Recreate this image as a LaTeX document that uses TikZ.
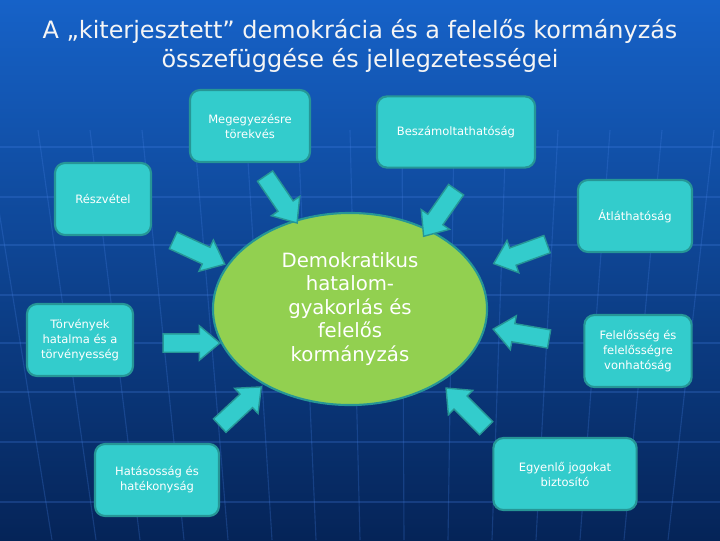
\documentclass[tikz,border=0pt]{standalone}
\usepackage{fontspec}
\setmainfont{DejaVu Sans}
\usetikzlibrary{shapes}

\definecolor{bgtop}{RGB}{22,98,200}
\definecolor{bgmid}{RGB}{12,64,148}
\definecolor{bgbot}{RGB}{5,36,88}
\definecolor{tuerkis}{RGB}{51,204,204}
\definecolor{rand}{RGB}{38,150,150}
\definecolor{gruen}{RGB}{146,208,80}
\definecolor{gitter}{RGB}{70,130,230}

\begin{document}
\begin{tikzpicture}[x=0.025cm, y=-0.025cm,
  box/.style={draw=rand, line width=1.5pt, fill=tuerkis, rounded corners=0.25cm, text=white, align=center, font=\fontsize{8.2}{10.7}\selectfont, inner sep=2pt, minimum height=1.8cm},
  arr/.style={single arrow, draw=rand, line width=1pt, fill=tuerkis, sloped, allow upside down, inner xsep=0pt, inner ysep=0.2125cm, minimum height=1.42cm, single arrow head extend=0.2cm, single arrow tip angle=80}]

\useasboundingbox (0,0) rectangle (720,540);
\fill[top color=bgtop, middle color=bgmid, bottom color=bgbot] (0,0) rectangle (720,540);
\begin{scope}
\clip (0,0) rectangle (720,540);
\foreach \y in {147,197,245,295,343,392,442,502}
  \draw[gitter, opacity=0.25, line width=0.8pt] (0,\y) -- (720,\y);
\foreach \k in {-7,...,7}
  \draw[gitter, opacity=0.25, line width=0.8pt] (350+52*\k,130) -- (360+44*\k,540);
\end{scope}

\node[text=white!92!gray, align=center, font=\fontsize{17}{20.6}\selectfont] at (360,46) (titel) {A „kiterjesztett” demokrácia és a felelős kormányzás\\összefüggése és jellegzetességei};

\node[ellipse, draw=rand, line width=1.5pt, fill=gruen, text=white, align=center, minimum width=6.85cm, minimum height=4.8cm, font=\fontsize{14}{16.7}\selectfont] at (350,309) (dem) {Demokratikus\\hatalom-\\gyakorlás és\\felelős\\kormányzás};

\node[box, minimum width=3.0cm] at (250,126) (meg) {Megegyezésre\\törekvés};
\node[box, minimum width=3.95cm, minimum height=1.78cm] at (456,132) (besz) {Beszámoltathatóság};
\node[box, minimum width=2.4cm] at (103,199) (resz) {Részvétel};
\node[box, minimum width=2.85cm] at (635,216) (atl) {Átláthatóság};
\node[box, minimum width=2.65cm] at (80,340) (torv) {Törvények\\hatalma és a\\törvényesség};
\node[box, minimum width=2.68cm] at (638,351) (fel) {Felelősség és\\felelősségre\\vonhatóság};
\node[box, minimum width=3.1cm] at (157,480) (hat) {Hatásosság és\\hatékonyság};
\node[box, minimum width=3.58cm] at (565,474) (egy) {Egyenlő jogokat\\biztosító};

\coordinate (t1) at (263,173); \coordinate (h1) at (293,217);
\coordinate (t2) at (458,187); \coordinate (h2) at (428,230);
\coordinate (t3) at (168,238); \coordinate (h3) at (220,262);
\coordinate (t4) at (553,242); \coordinate (h4) at (498,262);
\coordinate (t5) at (157,343); \coordinate (h5) at (215,343);
\coordinate (t6) at (555,340); \coordinate (h6) at (498,330);
\coordinate (t7) at (215,430); \coordinate (h7) at (258,390);
\coordinate (t8) at (490,432); \coordinate (h8) at (450,392);

\foreach \i in {1,...,8}
  \path (t\i) -- node[arr] {} (h\i);
\end{tikzpicture}
\end{document}
